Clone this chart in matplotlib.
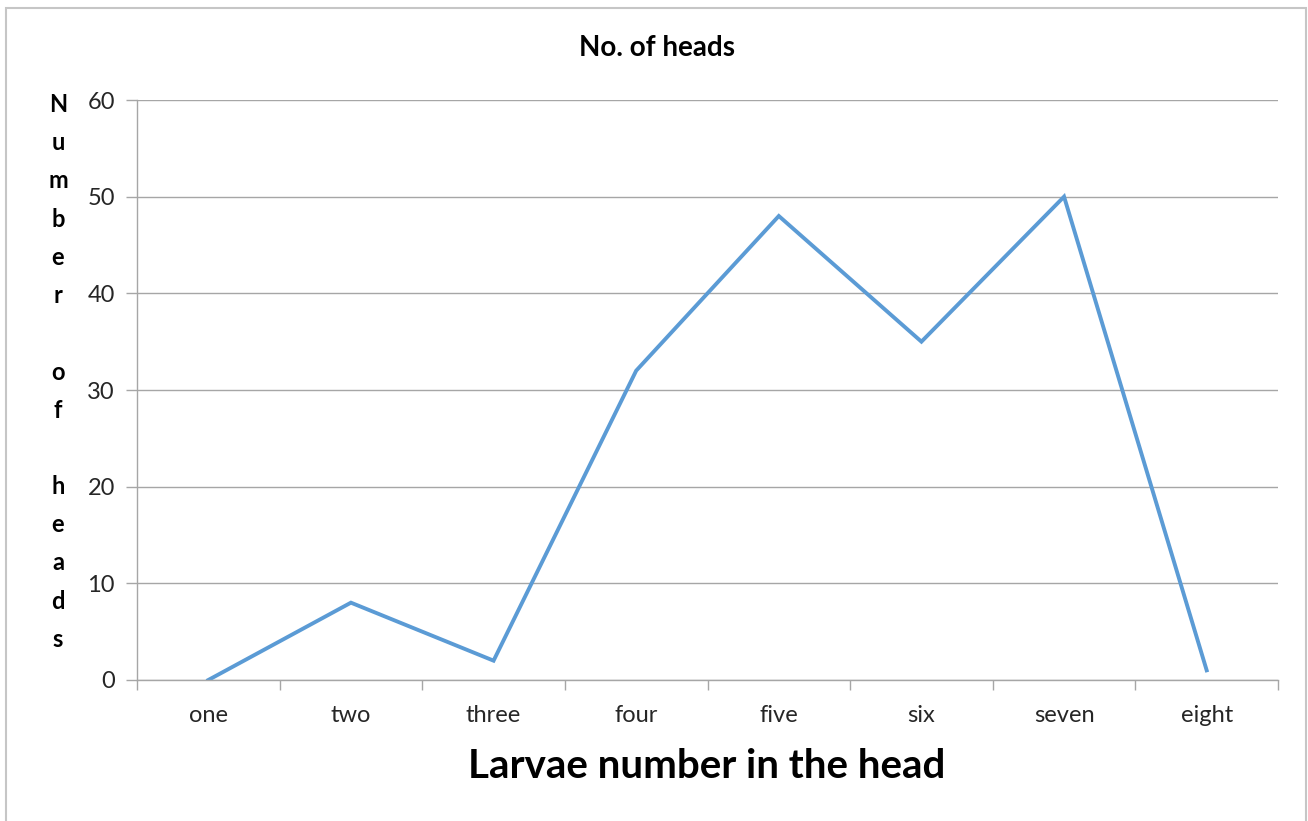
import numpy as np
import matplotlib.pyplot as plt
from matplotlib.patches import Rectangle
from matplotlib.ticker import FixedLocator

categories = ['one', 'two', 'three', 'four', 'five', 'six', 'seven', 'eight']
heads = [0, 8, 2, 32, 48, 35, 50, 1]

plt.rcParams['font.family'] = ['Lato', 'DejaVu Sans']

W, H = 1308, 821
fig = plt.figure(figsize=(W / 100, H / 100), dpi=100)
ax = fig.add_axes([137 / W, 1 - 680 / H, (1278 - 137) / W, (680 - 100) / H])

# outer chart frame
fig.patches.append(Rectangle((6 / W, -0.05), (1306 - 6) / W, 1.05 - 8 / H,
                             transform=fig.transFigure, fill=False,
                             edgecolor='#c6c6c6', linewidth=1.5))

x = np.arange(len(categories))
ax.plot(x, heads, color='#5b9bd5', linewidth=2.8, solid_joinstyle='miter')

ax.set_xlim(-0.5, len(categories) - 0.5)
ax.set_ylim(0, 60)
ax.set_yticks(range(0, 61, 10))
ax.yaxis.grid(True, color='#a6a6a6', linewidth=1)
ax.set_axisbelow(True)

ax.set_xticks(x)
ax.set_xticklabels(categories)
ax.xaxis.set_minor_locator(FixedLocator(np.arange(-0.5, len(categories), 1)))
ax.tick_params(axis='x', which='major', length=0, pad=18, labelsize=17, labelcolor='#262626')
ax.tick_params(axis='x', which='minor', length=7, width=1, color='#a6a6a6', direction='out')
ax.tick_params(axis='y', length=8, width=1, color='#a6a6a6', pad=8, labelsize=17, labelcolor='#262626')

for s in ['top', 'right']:
    ax.spines[s].set_visible(False)
for s in ['left', 'bottom']:
    ax.spines[s].set_color('#a6a6a6')
    ax.spines[s].set_linewidth(1)

fig.text(657 / W, 1 - 48 / H, 'No. of heads', ha='center', va='center',
         fontsize=20, fontweight='bold')
fig.text(707 / W, 1 - 766 / H, 'Larvae number in the head', ha='center', va='center',
         fontsize=29, fontweight='bold')

ylab = '\n'.join('Number') + '\n\n' + '\n'.join('of') + '\n\n' + '\n'.join('heads')
fig.text(58 / W, 1 - 372 / H, ylab, ha='center', va='center',
         fontsize=17, fontweight='bold', linespacing=1.8)

fig.savefig('out.png', dpi=100)
